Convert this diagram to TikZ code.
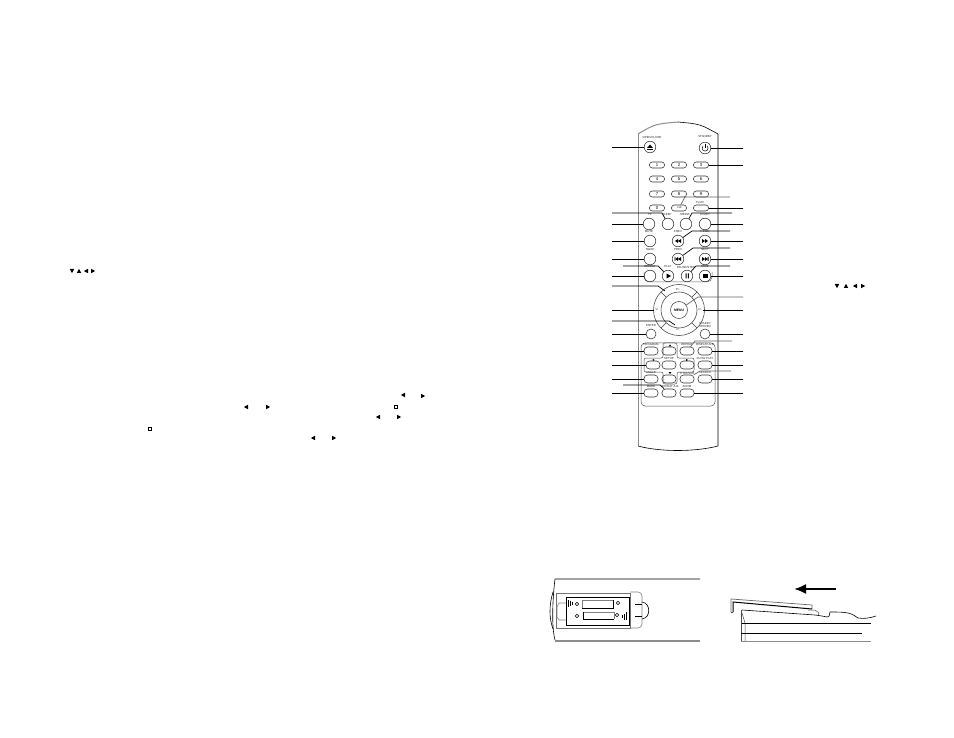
\documentclass[tikz,border=0pt]{standalone}
\usepackage{fontspec}
\setmainfont{Liberation Sans}
\usetikzlibrary{arrows.meta}
\tikzset{
  rbtn/.style={draw=black!80,circle,line width=.55pt,inner sep=0pt,minimum size=11.6pt},
  sbtn/.style={draw=black!80,circle,line width=.55pt,inner sep=0pt,minimum size=10pt},
  pbtn/.style={draw=black!80,rectangle,rounded corners=2.8pt,line width=.55pt,inner sep=0pt,
    minimum width=15pt,minimum height=6pt,font=\fontsize{4.2}{4}\selectfont},
  qbtn/.style={pbtn,rounded corners=3.5pt,minimum width=14pt,minimum height=8pt},
  lbl/.style={inner sep=0pt,text=black!85,align=center,font=\fontsize{2.9}{3}\selectfont},
  lead/.style={draw=black,line width=.7pt},
  leadg/.style={draw=black!60,line width=.7pt},
  shell/.style={draw=black,line width=.6pt},
  shellg/.style={draw=black!45,line width=1pt}
}
\begin{document}
\begin{tikzpicture}[x=1pt,y=-1pt]
  \useasboundingbox (0,0) rectangle (954,738);

  % remote body
  \draw[shellg] (638,134) .. controls (655,124) .. (678,122);
  \draw[shell] (678,122) .. controls (700,124) .. (718,134) -- (718,446);
  \draw[shellg] (638,134) -- (638,446);
  \draw[shell] (638,446) .. controls (660,452) and (695,452) .. (718,446);

  % top row
  \node[rbtn] (eject) at (650,147) {};
  \node[rbtn] (standby) at (705,148) {};
  \node[lbl] (ejectt) at (652,137) {OPEN/CLOSE};
  \node[lbl] (standbyt) at (705,137) {STANDBY};
  \fill (647,148) -- (653,148) -- (650,144.5) -- cycle;
  \fill (647,149) rectangle (653,150);
  \draw[line width=.5pt] (703,146) arc[start angle=135,end angle=405,radius=3pt];
  \draw[line width=.5pt] (705,144) -- (705,148);

  % number keys
  \node[pbtn] (n1) at (657,165) {1};
  \node[pbtn] (n2) at (679,165) {2};
  \node[pbtn] (n3) at (701,165) {3};
  \node[pbtn] (n4) at (657,179) {4};
  \node[pbtn] (n5) at (679,179) {5};
  \node[pbtn] (n6) at (701,179) {6};
  \node[pbtn] (n7) at (657,194) {7};
  \node[pbtn] (n8) at (679,194) {8};
  \node[pbtn] (n9) at (701,194) {9};
  \node[pbtn] (n0) at (657,208) {0};
  \node[pbtn,font=\fontsize{2.8}{3}\selectfont] (n10) at (679,208) {+10};
  \node[pbtn] (tvav) at (701,208) {};
  \node[lbl] (tvavt) at (700,202) {TV/AV};

  % round keys
  \node[rbtn] (tp) at (649,224) {};
  \node[rbtn] (sleep) at (668,224) {};
  \node[rbtn] (media) at (686,224) {};
  \node[rbtn] (loudy) at (705,224) {};
  \node[lbl] (tpt) at (650,215) {TP};
  \node[lbl] (sleept) at (667,215) {SLEEP};
  \node[lbl] (mediat) at (685,215) {MEDIA};
  \node[lbl] (loudyt) at (705,215) {LOUDY};
  \node[rbtn] (mute) at (650,241) {};
  \node[rbtn] (frev) at (678,241) {};
  \node[rbtn] (ffwd) at (705,241) {};
  \node[lbl] (mutet) at (649,232) {MUTE};
  \node[lbl] (frevt) at (678,232) {F.REV};
  \node[lbl] (ffwdt) at (705,232) {F.FWD};
  \node[rbtn] (swap) at (650,259) {};
  \node[rbtn] (prev) at (678,259) {};
  \node[rbtn] (next) at (705,259) {};
  \node[lbl] (swapt) at (650,250) {SWAP};
  \node[lbl] (prevt) at (678,250) {PREV};
  \node[lbl] (nextt) at (705,250) {NEXT};
  \draw[draw=black!60,line width=.5pt,rounded corners=5pt] (644,272) -- (644,282) -- (712,282) -- (712,272);
  \node[rbtn] (repeat) at (650,276) {};
  \node[rbtn] (play) at (668,276) {};
  \node[rbtn] (pause) at (687,276) {};
  \node[rbtn] (stop) at (705,276) {};
  \node[lbl] (repeatt) at (650,267) {REPEAT};
  \node[lbl] (playt) at (668,267) {PLAY};
  \node[lbl] (pauset) at (686,267) {PAUSE/STEP};
  \node[lbl] (stopt) at (705,267) {STOP};

  % key glyphs
  \fill (678,241) -- (681,239) -- (681,243) -- cycle (675,241) -- (678,239) -- (678,243) -- cycle;
  \fill (705,241) -- (702,239) -- (702,243) -- cycle (708,241) -- (705,239) -- (705,243) -- cycle;
  \fill (678,259) -- (681,257) -- (681,261) -- cycle (675.5,259) -- (678,257) -- (678,261) -- cycle (674.5,257) rectangle (675.3,261);
  \fill (705,259) -- (702,257) -- (702,261) -- cycle (707.5,259) -- (705,257) -- (705,261) -- cycle (707.7,257) rectangle (708.5,261);
  \fill (666.5,273.5) -- (671,276) -- (666.5,278.5) -- cycle;
  \fill (685.5,273.5) rectangle (686.5,278.5) (687.8,273.5) rectangle (688.8,278.5);
  \fill (703,274) rectangle (707.5,278.5);

  % cursor ring
  \draw[draw=black!75,line width=.55pt] (679,310) circle[radius=25.5pt];
  \draw[draw=black!75,line width=.55pt] (679,310) circle[radius=18pt];
  \foreach \a/\b in {1/1,1/-1,-1/1,-1/-1}
    \draw[draw=black!75,line width=.55pt] (679+\a*12.7,310+\b*12.7) -- (679+\a*18,310+\b*18);
  \node[draw=black!75,circle,line width=.55pt,inner sep=0pt,minimum size=17pt,font=\fontsize{3.4}{3}\selectfont\bfseries] (menu) at (679,310) {MENU};
  \node[lbl] (pplus) at (678,290) {P+};
  \node[lbl] (pminus) at (678,330) {P-};
  \node[lbl,minimum width=5pt] (vminus) at (657,310) {V-};
  \node[lbl,minimum width=5pt] (vplus) at (700,310) {V+};
  \node[sbtn] (enter) at (651,334) {};
  \node[sbtn] (sound) at (705,334) {};
  \node[lbl] (entert) at (651,326) {ENTER};
  \node[lbl] (soundt) at (705,325) {SOUND/\\STEREO};

  % lower panel
  \draw[draw=black!70,line width=.5pt,rounded corners=4pt] (641,343) rectangle (715,406);
  \draw[draw=black!70,line width=.5pt,rounded corners=2pt] (663,343) -- (677,343) -- (677,358) -- (694,358) -- (694,372) -- (677,372) -- (677,384) -- (663,384) -- (663,372) -- (644,372) -- (644,358) -- (663,358) -- cycle;
  \node[qbtn] (prog) at (651,351) {};
  \node[qbtn] (up) at (669,351) {};
  \node[qbtn] (rpt) at (687,351) {};
  \node[qbtn] (disp) at (705,351) {};
  \node[qbtn] (left) at (653,365) {};
  \node[qbtn] (setup) at (669,365) {};
  \node[qbtn] (right) at (687,365) {};
  \node[qbtn] (slow) at (705,365) {};
  \node[qbtn] (angle) at (651,379) {};
  \node[qbtn] (down) at (669,379) {};
  \node[qbtn] (title) at (687,379) {};
  \node[qbtn] (search) at (705,379) {};
  \node[qbtn] (mark) at (651,393) {};
  \node[qbtn] (ab) at (669,393) {};
  \node[qbtn] (zoom) at (687,393) {};
  \node[lbl] (progt) at (651,345) {PROGRAM};
  \node[lbl] (rptt) at (687,345) {REPEAT};
  \node[lbl] (dispt) at (705,345) {DISPLAY-A-D};
  \node[lbl] (setupt) at (669,359) {SETUP};
  \node[lbl] (slowt) at (705,359) {SLOW PLAY};
  \node[lbl] (anglet) at (651,373) {ANGLE};
  \node[lbl] (titlet) at (687,373) {TITLE/SUB};
  \node[lbl] (searcht) at (705,373) {SEARCH};
  \node[lbl] (markt) at (651,387) {MARK};
  \node[lbl] (abt) at (670,387) {REPEAT A-B};
  \node[lbl] (zoomt) at (687,387) {ZOOM};
  \fill (668.5,346.5) -- (671.5,346.5) -- (670,344.5) -- cycle;
  \fill (668.5,372) -- (671.5,372) -- (670,374) -- cycle;
  \fill (654,359) -- (654,361) -- (652,360) -- cycle;
  \fill (686,359) -- (686,361) -- (688,360) -- cycle;

  % target points that are not keys
  \coordinate (pup) at (665,291);
  \coordinate (pdn) at (675,325);

  % leaders, straight
  \foreach \n/\x/\y/\t in {la/612/147/eject,lb/612/224/tp,lc/612/241/mute,ld/612/259/swap,
      le/612/276/repeat,lf/612/310/vminus,lg/612/334/enter,lh/612/351/prog,li/612/365/left,
      lj/612/379/angle,lk/612/393/mark,ra/743/148/standby,rb/743/165/n3,rc/743/208/tvav,
      rd/743/224/loudy,re/743/241/ffwd,rf/743/259/next,rg/743/276/stop,rh/743/310/vplus,
      ri/743/334/sound,rj/743/351/disp,rk/743/365/slow,rl/743/379/search,rm/743/393/zoom}{
    \coordinate (\n) at (\x,\y);
    \draw[lead] (\n) -- (\t);
  }
  % leaders with a bend, dark
  \foreach \n/\x/\y/\ex/\t in {ma/612/213/662/sleep,mb/623/266/658/play,mc/612/286/658/pup,
      md/612/321/669/pdn,me/623/385/660/ab,mf/730/266/696/pause,mg/732/213/692/media,
      mh/730/231/692/frev,mi/730/248/693/prev}{
    \coordinate (\n) at (\x,\y);
    \coordinate (\n e) at (\ex,\y);
    \draw[lead] (\n) -- (\n e) -- (\t);
  }
  % leaders with a bend, grey
  \foreach \n/\x/\y/\ex/\t in {ga/730/197/685/n10,gb/743/297/698/menu,gc/732/341/695/rpt,gd/731/371/700/title}{
    \coordinate (\n) at (\x,\y);
    \coordinate (\n e) at (\ex,\y);
    \draw[leadg] (\n) -- (\n e) -- (\t);
  }

  % marks in the text columns
  \foreach \x/\y in {86/271,855/286,403/395,246/407,378/417,313/438}
    \fill (\x-2.2,\y) -- (\x+2,\y-2.2) -- (\x+2,\y+2.2) -- cycle;
  \foreach \x/\y in {93/271,863/286,423/396,268/407,399/417,334/438}
    \fill (\x+2.2,\y) -- (\x-2,\y-2.2) -- (\x-2,\y+2.2) -- cycle;
  \foreach \x/\y in {72/271,837/286}
    \fill (\x,\y+2.2) -- (\x-2.2,\y-2) -- (\x+2.2,\y-2) -- cycle;
  \foreach \x/\y in {79/271,846/286}
    \fill (\x,\y-2.2) -- (\x-2.2,\y+2) -- (\x+2.2,\y+2) -- cycle;
  \foreach \x/\y in {396/407,150/429}
    \draw[line width=.7pt] (\x-1.5,\y-1.8) rectangle (\x+1.5,\y+1.8);

  % battery bay
  \draw[shell] (700,579) -- (555,579) .. controls (553,595) and (551,625) .. (555,640);
  \draw[draw=black!45,line width=1.2pt] (555,641) -- (700,641);
  \draw[shell] (553,592) .. controls (549,605) and (549,618) .. (553,629);
  \draw[draw=black!55,line width=.6pt] (556,593) rectangle (630,628);
  \draw[draw=black,line width=.7pt] (566,597) rectangle (629,625);
  \draw[draw=black!50,line width=.6pt] (566,603) -- (559,603) -- (557,607) -- (557,617) -- (559,620) -- (566,620);
  \draw[draw=black!50,line width=.6pt,rounded corners=4pt] (630,592) -- (642,592) -- (642,628) -- (630,628);
  \draw[line width=.6pt] (642,602) .. controls (651,603) and (651,618) .. (642,619);
  \draw[line width=.8pt] (635,604) -- (642,604) (635,616) -- (642,616);
  \draw[draw=black!50,line width=.5pt] (582,608) -- (582,600) -- (613,600);
  \draw[line width=.7pt] (582,608) -- (613,608) -- (613,600);
  \draw[draw=black!50,line width=.5pt] (583,612) -- (614,612) -- (614,619);
  \draw[line width=.7pt] (583,612) -- (583,619) -- (614,619);
  \foreach \x/\y in {577/604,618/603,577/616,617/615}
    \draw[line width=.6pt] (\x,\y) circle[radius=1.8pt];
  \draw[line width=.9pt] (568,599.5) -- (568,606.5) (570,600.5) -- (570,605.5) (572,601.5) -- (572,604.5);
  \draw[line width=.9pt] (622,618) -- (622,615) (624,620) -- (624,614) (626,620) -- (626,612);

  % cover sliding off
  \draw[-{Latex[length=12pt,width=10pt]},line width=2pt] (836,589) -- (794,589);
  \draw[draw=black!60,line width=.7pt] (731,612) -- (731,599) -- (812,605) -- (812,609);
  \draw[line width=1pt] (733,612) -- (733,602) -- (812,609);
  \draw[draw=black!70,line width=1pt] (731,612) -- (733,612);
  \draw[line width=.6pt] (742,610) -- (815,615) .. controls (822,616) .. (827,617) .. controls (829,617) .. (830,612)
    .. controls (838,612) and (843,612) .. (848,613) .. controls (852,614) .. (858,618) .. controls (864,619) and (870,618) .. (876,616);
  \draw[draw=black!70,line width=.5pt] (808,610) -- (815,610) -- (819,613) -- (818,615);
  \draw[draw=black!70,line width=.5pt] (741,610) -- (741,641);
  \draw[draw=black!70,line width=.5pt] (742,613) -- (745,623) -- (745,641);
  \draw[line width=.6pt] (742,623) -- (871,623);
  \draw[line width=.6pt] (741,633) -- (862,633);
  \draw[draw=black!45,line width=1pt] (741,641) -- (871,641);
\end{tikzpicture}
\end{document}
